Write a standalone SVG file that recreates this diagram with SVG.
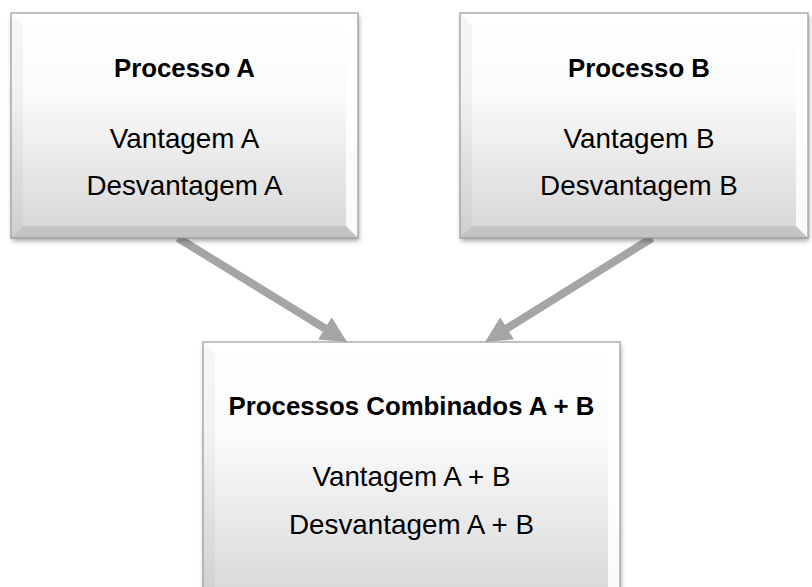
<svg xmlns="http://www.w3.org/2000/svg" width="812" height="587" viewBox="0 0 812 587">
  <style>
    .face { fill: url(#faceGrad); }
    .outline { fill: none; stroke: #9a9a9a; stroke-width: 1.2; }
    .bev-top { fill: #ffffff; fill-opacity: 0.6; }
    .bev-left { fill: #000000; fill-opacity: 0.035; }
    .bev-right { fill: #ffffff; fill-opacity: 0.85; }
    .bev-bottom { fill: #000000; fill-opacity: 0.09; }
    .title { font-family: "Liberation Sans", Arial, sans-serif; font-weight: bold; font-size: 25.8px; fill: #000; text-anchor: middle; }
    .body { font-family: "Liberation Sans", Arial, sans-serif; font-size: 27.8px; fill: #000; text-anchor: middle; }
    .conn { stroke: #a5a5a5; stroke-width: 8; fill: none; }
  </style>
  <defs>
    <linearGradient id="faceGrad" x1="0" y1="0" x2="0" y2="1">
      <stop offset="0" stop-color="#ffffff"/>
      <stop offset="0.35" stop-color="#fbfbfb"/>
      <stop offset="1" stop-color="#d6d6d6"/>
    </linearGradient>
    <filter id="shadow" x="-10%" y="-10%" width="120%" height="125%">
      <feDropShadow dx="1" dy="3" stdDeviation="2.5" flood-color="#000" flood-opacity="0.35"/>
    </filter>
    <marker id="arrow" markerUnits="userSpaceOnUse" markerWidth="30" markerHeight="30" refX="6" refY="13" orient="auto">
      <path d="M0,0 L26,13 L0,26 Z" fill="#a5a5a5"/>
    </marker>
  </defs>

  <g id="connectors">
    <line class="conn" x1="178" y1="238" x2="330" y2="331.5" marker-end="url(#arrow)"/>
    <line class="conn" x1="652" y1="238" x2="502" y2="331.4" marker-end="url(#arrow)"/>
  </g>

  <g id="node-a">
    <rect class="face" x="11" y="13" width="347" height="225" filter="url(#shadow)"/>
    <polygon class="bev-top" points="11,13 358,13 346,25 23,25"/>
    <polygon class="bev-left" points="11,13 23,25 23,226 11,238"/>
    <polygon class="bev-right" points="358,13 358,238 346,226 346,25"/>
    <polygon class="bev-bottom" points="11,238 358,238 346,226 23,226"/>
    <rect class="outline" x="11" y="13" width="347" height="225"/>
    <text class="title" x="184.5" y="77">Processo A</text>
    <text class="body" x="184.5" y="148">Vantagem A</text>
    <text class="body" x="184.5" y="195">Desvantagem A</text>
  </g>

  <g id="node-b">
    <rect class="face" x="460" y="13" width="348" height="225" filter="url(#shadow)"/>
    <polygon class="bev-top" points="460,13 808,13 796,25 472,25"/>
    <polygon class="bev-left" points="460,13 472,25 472,226 460,238"/>
    <polygon class="bev-right" points="808,13 808,238 796,226 796,25"/>
    <polygon class="bev-bottom" points="460,238 808,238 796,226 472,226"/>
    <rect class="outline" x="460" y="13" width="348" height="225"/>
    <text class="title" x="639" y="77">Processo B</text>
    <text class="body" x="639" y="148">Vantagem B</text>
    <text class="body" x="639" y="195">Desvantagem B</text>
  </g>

  <g id="node-c">
    <rect class="face" x="203" y="342" width="417" height="265" filter="url(#shadow)"/>
    <polygon class="bev-top" points="203,342 620,342 608,354 215,354"/>
    <polygon class="bev-left" points="203,342 215,354 215,595 203,607"/>
    <polygon class="bev-right" points="620,342 620,607 608,595 608,354"/>
    <rect class="outline" x="203" y="342" width="417" height="265"/>
    <text class="title" x="411.5" y="415">Processos Combinados A + B</text>
    <text class="body" x="411.5" y="486">Vantagem A + B</text>
    <text class="body" x="411.5" y="534">Desvantagem A + B</text>
  </g>
</svg>
